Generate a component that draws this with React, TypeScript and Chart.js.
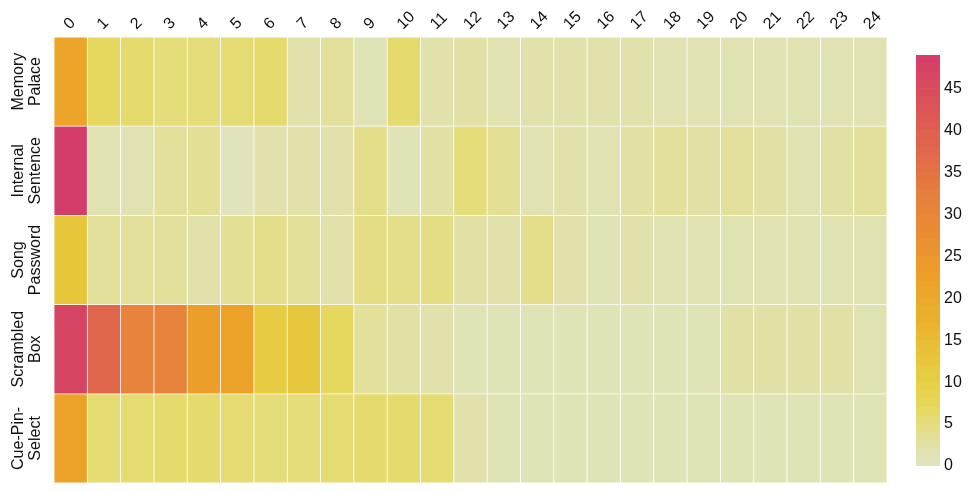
import React, { useEffect, useRef } from "react";
import { Chart, registerables } from "chart.js";

Chart.register(...registerables);

const columnLabels = ["0","1","2","3","4","5","6","7","8","9","10","11","12","13","14","15","16","17","18","19","20","21","22","23","24"];
const rowLabels = [["Memory", "Palace"], ["Internal", "Sentence"], ["Song", "Password"], ["Scrambled", "Box"], ["Cue-Pin-", "Select"]];

const memoryPalace = [21, 7, 6, 5, 5, 5.5, 6, 2, 3, 1, 6, 2, 2.5, 1.5, 2, 2, 2, 2, 1.5, 1.5, 1.5, 1.5, 1.5, 1.5, 1.5];
const internalSentence = [49, 1.5, 1.5, 3, 3.5, 0.5, 2, 2, 2, 4, 1, 2.5, 5, 3.5, 1.5, 2, 1.5, 2.5, 3, 2.5, 3, 2.5, 1.5, 2.5, 3];
const songPassword = [12.5, 3, 3, 3, 2, 3.5, 4, 3, 2, 4.5, 4, 4.5, 2.5, 2, 4, 2, 1, 2, 1.5, 1.5, 1.5, 1.5, 1.5, 1.5, 1.5];
const scrambledBox = [47, 38, 31, 31, 23, 22, 11, 12, 7, 3, 2.5, 2, 1, 1, 1, 1, 1, 1, 1, 1, 2.5, 2.5, 2.5, 2.5, 1.5];
const cuePinSelect = [22, 5.5, 5.5, 6, 6, 5.5, 5, 5, 5.5, 6, 6, 5.5, 2, 1, 1, 1, 1, 1, 1, 1, 1, 1, 1, 1, 1];

const rows = [memoryPalace, internalSentence, songPassword, scrambledBox, cuePinSelect];

const colorMax = 49;
const colorTicks = [0, 5, 10, 15, 20, 25, 30, 35, 40, 45];

const colorStops: [number, number[]][] = [
  [0, [223, 228, 194]],
  [2.5, [226, 225, 165]],
  [5, [229, 220, 122]],
  [8, [230, 214, 80]],
  [12, [231, 200, 60]],
  [17, [234, 178, 45]],
  [22, [236, 162, 40]],
  [27, [233, 142, 50]],
  [32, [230, 128, 60]],
  [38, [224, 102, 76]],
  [44, [218, 80, 92]],
  [49, [212, 60, 106]],
];

function colorFor(v: number): string {
  if (v <= colorStops[0][0]) return `rgb(${colorStops[0][1].join(",")})`;
  for (let i = 1; i < colorStops.length; i++) {
    const [v1, c1] = colorStops[i];
    const [v0, c0] = colorStops[i - 1];
    if (v <= v1) {
      const t = (v - v0) / (v1 - v0);
      const c = c0.map((x, k) => Math.round(x + (c1[k] - x) * t));
      return `rgb(${c.join(",")})`;
    }
  }
  return `rgb(${colorStops[colorStops.length - 1][1].join(",")})`;
}

const FONT = "'Liberation Sans', Arial, sans-serif";

const labelPlugin = {
  id: "heatLabels",
  afterDraw(chart: any) {
    const ctx = chart.ctx;
    const y = chart.scales.y;
    const x = chart.scales.x;
    ctx.save();
    ctx.fillStyle = "#111";
    ctx.font = `16px ${FONT}`;
    ctx.textAlign = "center";
    ctx.textBaseline = "middle";
    rowLabels.forEach((lines, i) => {
      const cy = y.getPixelForValue(i + 0.5);
      ctx.save();
      ctx.translate(27, cy);
      ctx.rotate(-Math.PI / 2);
      const lh = 17;
      lines.forEach((ln, k) => {
        ctx.fillText(ln, 0, (k - (lines.length - 1) / 2) * lh);
      });
      ctx.restore();
    });
    ctx.textAlign = "left";
    columnLabels.forEach((lab, i) => {
      const cx = x.getPixelForValue(i);
      ctx.save();
      ctx.translate(cx - 4, 27);
      ctx.rotate(-Math.PI / 4);
      ctx.fillText(lab, 0, 0);
      ctx.restore();
    });
    ctx.restore();
  },
};

function HeatMap() {
  const ref = useRef<HTMLCanvasElement>(null);
  useEffect(() => {
    const datasets = rows.map((vals, r) => ({
      label: rowLabels[r].join(" "),
      data: vals.map(() => [r, r + 1]),
      backgroundColor: vals.map((v) => colorFor(v)),
      borderColor: "rgba(255,255,255,0.35)",
      borderWidth: 0.75,
      borderSkipped: false,
      grouped: false,
      categoryPercentage: 1,
      barPercentage: 1,
    }));
    const chart = new Chart(ref.current!, {
      type: "bar",
      data: { labels: columnLabels, datasets },
      options: {
        animation: false,
        responsive: false,
        layout: { padding: { left: 54, right: 92, top: 0, bottom: 9 } },
        plugins: { legend: { display: false }, tooltip: { enabled: false } },
        scales: {
          x: {
            position: "top",
            grid: { display: false },
            border: { display: false },
            ticks: { display: false },
            afterFit: (s: any) => {
              s.height = 37;
            },
          },
          y: {
            type: "linear",
            min: 0,
            max: 5,
            reverse: true,
            display: false,
          },
        },
      },
      plugins: [labelPlugin],
    });
    return () => chart.destroy();
  }, []);
  return <canvas ref={ref} width={979} height={492} style={{ position: "absolute", left: 0, top: 0 }} />;
}

function ColorBar() {
  const ref = useRef<HTMLCanvasElement>(null);
  useEffect(() => {
    const segs: number[] = [];
    for (let v = 0; v < colorMax; v += 1) segs.push(v);
    const datasets = segs.map((v) => ({
      data: [[v, Math.min(v + 1, colorMax)]],
      backgroundColor: colorFor(v + 0.5),
      borderWidth: 0,
      grouped: false,
      categoryPercentage: 1,
      barPercentage: 1,
    }));
    const chart = new Chart(ref.current!, {
      type: "bar",
      data: { labels: ["c"], datasets },
      options: {
        animation: false,
        responsive: false,
        layout: { padding: { left: 0, right: 0, top: 55, bottom: 26 } },
        plugins: { legend: { display: false }, tooltip: { enabled: false } },
        scales: {
          x: { display: false },
          y: {
            position: "right",
            min: 0,
            max: colorMax,
            grid: { display: false, drawTicks: false },
            border: { display: false },
            afterBuildTicks: (s: any) => {
              s.ticks = colorTicks.map((v) => ({ value: v }));
            },
            ticks: {
              color: "#111",
              font: { family: FONT, size: 16 },
              padding: 4,
            },
            afterFit: (s: any) => {
              s.width = 39;
            },
          },
        },
      },
    });
    return () => chart.destroy();
  }, []);
  return <canvas ref={ref} width={63} height={492} style={{ position: "absolute", left: 916, top: 0 }} />;
}

export default function App() {
  return (
    <div style={{ position: "fixed", left: 0, top: 0, width: 979, height: 492, background: "#fff" }}>
      <HeatMap />
      <ColorBar />
    </div>
  );
}
